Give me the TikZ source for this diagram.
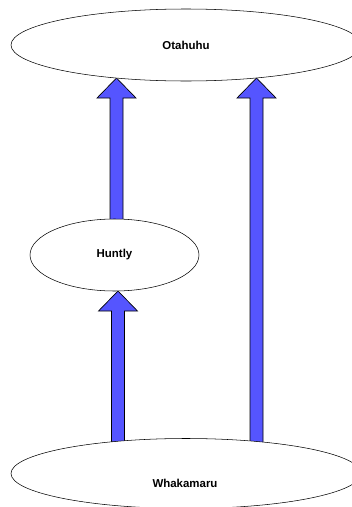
\documentclass[tikz,border=0pt]{standalone}
\usepackage{fontspec}
\setmainfont{Liberation Sans}
\usetikzlibrary{shapes.geometric,calc,backgrounds}

% block arrow from a base point up to a tip point
\newcommand{\blockarrow}[2]{%
  \draw[flow] let \p1=(#1), \p2=(#2) in
    (\x2-4.875pt,\y1) -- (\x2-4.875pt,\y2-15pt) -- (\x2-14.625pt,\y2-15pt)
    -- (\x2,\y2) -- (\x2+14.625pt,\y2-15pt) -- (\x2+4.875pt,\y2-15pt)
    -- (\x2+4.875pt,\y1) -- cycle;}

\begin{document}
\begin{tikzpicture}[x=0.75pt,y=-0.75pt,
    station/.style={ellipse, draw, fill=white, inner sep=0pt, outer sep=0pt,
      font=\fontsize{8.6}{10}\selectfont\bfseries},
    flow/.style={draw=black, fill={rgb,255:red,85;green,85;blue,255}, line width=0.5pt}]
                \useasboundingbox (0,0) rectangle (352,507);

                % Stations
                \node[station, minimum width=262.5pt, minimum height=54pt] (otahuhu) at (186,45) {Otahuhu};
                \node[station, minimum width=126.75pt, minimum height=54pt] (huntly) at (114.5,255) {Huntly};
                \node[station, minimum width=262.5pt, minimum height=52.5pt] (whakamaru) at (186,473.5) {};
                \node[font=\fontsize{8.6}{10}\selectfont\bfseries] (whakamarulabel) at (185,483) {Whakamaru};

                % Arrow positions
                \coordinate (lowleft) at (118,0);
                \coordinate (upleft) at (116.5,0);
                \coordinate (right) at (256.5,0);

                % Flows, behind the stations
                \begin{scope}[on background layer]
                \blockarrow{$(whakamaru.north -| lowleft)+(0,10)$}{huntly.south -| lowleft}
                \blockarrow{$(huntly.north -| upleft)+(0,6)$}{$(otahuhu.south -| upleft)+(0,-3)$}
                \blockarrow{$(whakamaru.north -| right)+(0,10)$}{$(otahuhu.south -| right)+(0,-3)$}
                \end{scope}
            \end{tikzpicture}
\end{document}
